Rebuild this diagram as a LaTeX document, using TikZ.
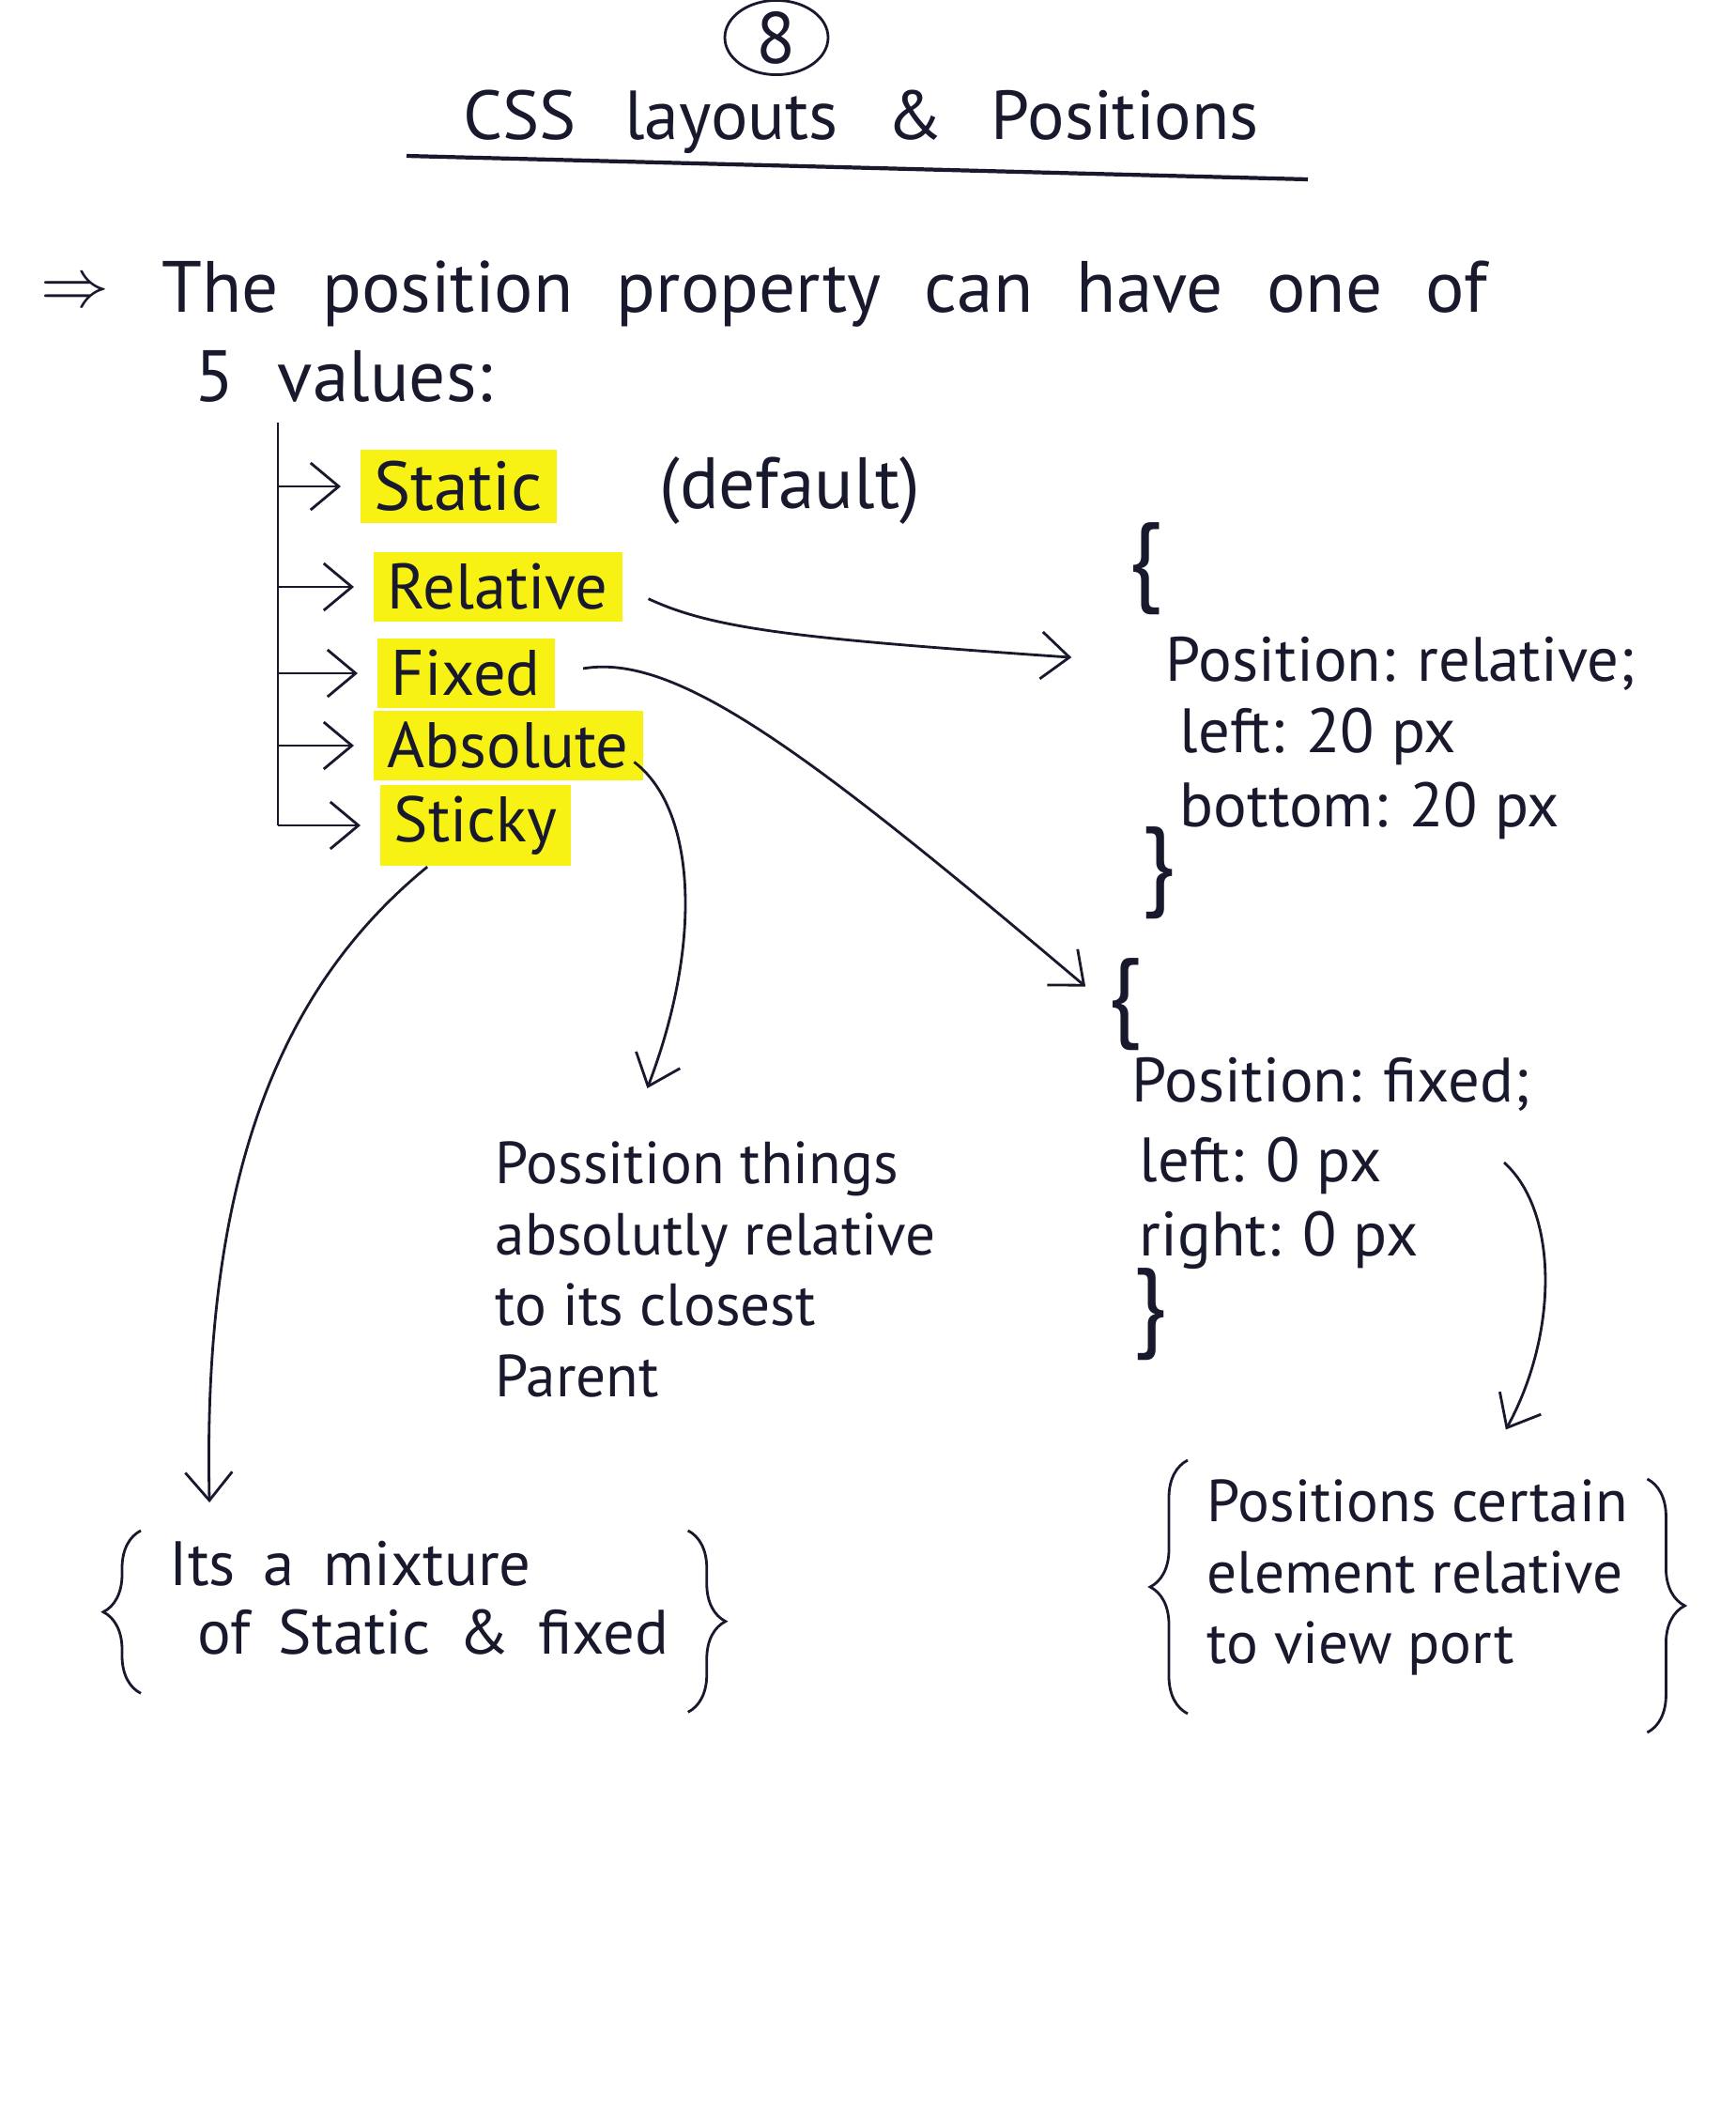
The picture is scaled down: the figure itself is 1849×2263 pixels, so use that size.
\documentclass[tikz,border=0pt]{standalone}
\usepackage{fontspec}
\setmainfont{PT Sans}
\usetikzlibrary{arrows.meta, positioning, calc, shapes.geometric, decorations.pathreplacing}
\definecolor{ink}{RGB}{25,25,45}
\definecolor{marker}{RGB}{248,242,20}

\begin{document}
\begin{tikzpicture}[x=0.1mm, y=-0.1mm, ink, text=ink,
  hand/.style={font=\fontsize{22}{26}\selectfont},
  item/.style={font=\fontsize{19.5}{24}\selectfont, fill=marker, inner xsep=1.5mm, inner ysep=1.2mm, anchor=west},
  code/.style={font=\fontsize{19}{22}\selectfont, anchor=west, inner sep=0pt},
  note/.style={font=\fontsize{18}{21.5}\selectfont, align=left, inner sep=0pt, anchor=north west},
  curly/.style={font=\fontsize{30}{30}\selectfont, inner sep=0pt},
  tip/.style={-{Straight Barb[length=3mm, width=5mm]}, thick},
  bracket/.style={thick, decorate, decoration={brace, amplitude=4mm}}]

  \useasboundingbox[fill=white] (0,0) rectangle (1849,2263);

  % ===== TITULO =====
  \node[hand, draw, thick, ellipse, minimum width=11mm, minimum height=7.6mm, inner sep=0pt] (page) at (827,40) {8};
  \node[font=\fontsize{21}{24}\selectfont] (title) at (917,130) {{\spaceskip=0.7em CSS layouts \& Positions}};
  \draw[very thick] (433,166) -- (1393,191);

  % ===== PROPIEDAD =====
  \node[hand] (implies) at (80,313) {$\Rightarrow$};
  \node[hand, anchor=west] (intro) at (160,313) {{\spaceskip=0.6em The position property can have one of}};
  \node[hand, anchor=west] (count) at (195,401) {{\spaceskip=0.6em 5 values:}};

  % ===== VALORES =====
  \coordinate (trunk) at (296,450);
  \node[item, font=\fontsize{21}{24}\selectfont] (static) at (383,518) {Static};
  \node[hand, anchor=west] (default) at (690,522) {(default)};
  \node[item] (relative) at (397,625) {Relative};
  \node[item] (fixed) at (401,717) {Fixed};
  \node[item] (absolute) at (397,794) {Absolute};
  \node[item] (sticky) at (404,879) {Sticky};

  \draw[thick] (trunk) -- (trunk |- sticky.west);
  \foreach \v in {static,relative,fixed,absolute,sticky}
    \draw[tip, shorten >=2mm] (trunk |- \v.west) -- (\v.west);

  % ===== BLOQUES =====
  \node[curly] (relopen) at (1220,606) {\{};
  \node[code] (relpos) at (1241,707) {Position: relative;};
  \node[code] (relleft) at (1256,784) {left: 20 px};
  \node[code] (relbottom) at (1256,863) {bottom: 20 px};
  \node[curly] (relclose) at (1234,930) {\}};

  \node[curly] (fixopen) at (1198,1070) {\{};
  \node[code] (fixpos) at (1205,1155) {Position: fixed;};
  \node[code] (fixleft) at (1213,1241) {left: 0 px};
  \node[code] (fixright) at (1213,1321) {right: 0 px};
  \node[curly] (fixclose) at (1225,1400) {\}};

  \node[note] (abstext) at (527,1215) {Possition things\\absolutly relative\\to its closest\\Parent};

  \node[note, font=\fontsize{19}{21}\selectfont] (sticktext) at (180,1640) {{\spaceskip=0.45em Its a mixture}\\\hspace*{3mm}{\spaceskip=0.45em of Static \& fixed}};
  \draw[bracket] ([xshift=-3mm,yshift=-4mm]sticktext.south west) -- ([xshift=-3mm,yshift=1mm]sticktext.north west);
  \draw[bracket] ([xshift=2mm,yshift=1mm]sticktext.north east) -- ([xshift=2mm,yshift=-6mm]sticktext.south east);

  \node[note] (vptext) at (1285,1575) {Positions certain\\element relative\\to view port};
  \draw[bracket] ([xshift=-2mm,yshift=-4mm]vptext.south west) -- ([xshift=-2mm,yshift=2mm]vptext.north west);
  \draw[bracket] ([xshift=2mm,yshift=0mm]vptext.north east) -- ([xshift=2mm,yshift=-6mm]vptext.south east);

  % ===== FLECHAS =====
  \coordinate (vpstart) at (1602,1238);
  \draw[tip, shorten <=3mm, shorten >=10mm] (relative.east) .. controls (760,670) and (850,680) .. (relpos.west);
  \draw[tip, shorten <=3mm, shorten >=3mm] (fixed.east) .. controls (720,695) and (860,800) .. (fixopen.west);
  \draw[tip, shorten >=6mm] ([xshift=-1mm, yshift=2mm]absolute.south east) .. controls (740,860) and (750,1000) .. ($(abstext.north west)!0.3!(abstext.north east)$);
  \draw[tip, shorten >=4mm] ($(sticky.south west)!0.25!(sticky.south east)$) .. controls (300,1050) and (215,1250) .. ([xshift=4.4mm]sticktext.north west);
  \draw[tip, shorten >=6mm] (vpstart) .. controls (1660,1290) and (1660,1420) .. ([xshift=29mm]vptext.north west);
\end{tikzpicture}
\end{document}
